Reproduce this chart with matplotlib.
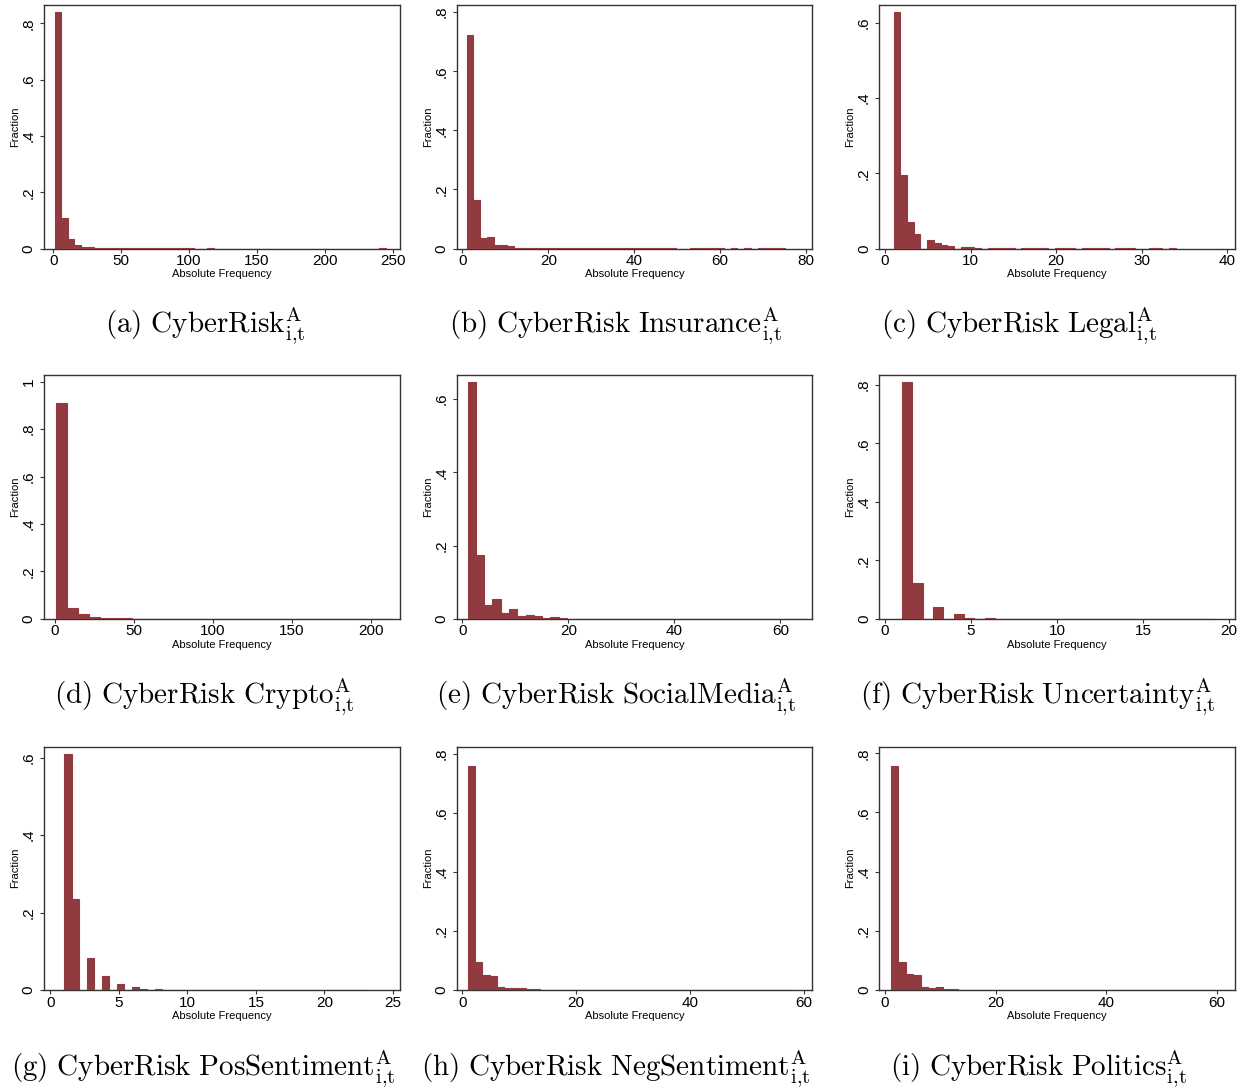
import numpy as np
import matplotlib
matplotlib.use('Agg')
import matplotlib.pyplot as plt

plt.rcParams['font.family'] = ['Liberation Sans', 'DejaVu Sans']
plt.rcParams['mathtext.fontset'] = 'cm'

# ---------------- data (fractions per histogram bin) ----------------
captions = [
    r'$\mathrm{(a)\ CyberRisk}^{\mathrm{A}}_{\mathrm{i{,}t}}$',
    r'$\mathrm{(b)\ CyberRisk\ Insurance}^{\mathrm{A}}_{\mathrm{i{,}t}}$',
    r'$\mathrm{(c)\ CyberRisk\ Legal}^{\mathrm{A}}_{\mathrm{i{,}t}}$',
    r'$\mathrm{(d)\ CyberRisk\ Crypto}^{\mathrm{A}}_{\mathrm{i{,}t}}$',
    r'$\mathrm{(e)\ CyberRisk\ SocialMedia}^{\mathrm{A}}_{\mathrm{i{,}t}}$',
    r'$\mathrm{(f)\ CyberRisk\ Uncertainty}^{\mathrm{A}}_{\mathrm{i{,}t}}$',
    r'$\mathrm{(g)\ CyberRisk\ PosSentiment}^{\mathrm{A}}_{\mathrm{i{,}t}}$',
    r'$\mathrm{(h)\ CyberRisk\ NegSentiment}^{\mathrm{A}}_{\mathrm{i{,}t}}$',
    r'$\mathrm{(i)\ CyberRisk\ Politics}^{\mathrm{A}}_{\mathrm{i{,}t}}$',
]

# (min value, max value, number of bins)
bin_specs = [(1, 245, 50), (1, 75, 47), (1, 34, 42),
             (1, 213, 31), (1, 65, 41), (1, 19, 30),
             (1, 23, 40), (1, 58, 45), (1, 62, 45)]

heights_a = [0.841, 0.110, 0.032, 0.012, 0.007, 0.004, 0.003, 0.002, 0.002, 0.0015,
             0.0015, 0.001, 0.001, 0.001, 0.001, 0.001, 0.0008, 0.0008, 0.0008, 0.0008,
             0.0006, 0, 0, 0.0006, 0, 0, 0, 0, 0, 0,
             0, 0, 0, 0, 0, 0, 0, 0, 0, 0,
             0, 0, 0, 0, 0, 0, 0, 0, 0, 0.0006]
heights_b = [0.721, 0.165, 0.036, 0.040, 0.012, 0.012, 0.008, 0.003, 0.002, 0.002,
             0.0015, 0.0015, 0.0008, 0.0008, 0.0008, 0.0008, 0.0008, 0.0008, 0.0008, 0.0008,
             0.0008, 0.0008, 0.0008, 0.0008, 0.0008, 0.0008, 0.0008, 0.0008, 0.0008, 0.0006,
             0.0006, 0, 0, 0.0006, 0.0006, 0.0006, 0.0006, 0.0006, 0, 0.0006,
             0, 0.0006, 0, 0.0006, 0.0006, 0.0006, 0.0006]
heights_c = [0.629, 0.196, 0.071, 0.038, 0, 0.022, 0.014, 0.009, 0.006, 0,
             0.0035, 0.0035, 0.001, 0, 0.0008, 0.0008, 0.0008, 0.0008, 0, 0.0008,
             0.0008, 0.0008, 0.0008, 0, 0.0008, 0.0008, 0.0008, 0, 0.0008, 0.0008,
             0.0008, 0.0008, 0, 0.0008, 0.0008, 0.0008, 0, 0, 0.0008, 0.0008,
             0, 0.0008]
heights_d = [0.911, 0.044, 0.021, 0.0085, 0.003, 0.002, 0.0015, 0.001, 0.001, 0.0008,
             0.0008, 0.0008, 0.0008, 0, 0, 0, 0.0006, 0, 0, 0,
             0, 0, 0, 0, 0, 0, 0, 0, 0, 0,
             0.0006]
heights_e = [0.648, 0.175, 0.038, 0.055, 0.016, 0.0255, 0.0064, 0.011, 0.008, 0.003,
             0.0045, 0.002, 0.0008, 0.0008, 0.0008, 0.0008, 0.0008, 0.0008, 0.0008, 0.0008,
             0.0008, 0, 0.0008, 0.0008, 0.0008, 0.0008, 0.0008, 0, 0, 0,
             0.0006, 0.0006, 0.0006, 0.0006, 0, 0, 0, 0.0006, 0.0006, 0.0006,
             0.0006]
heights_f = [0.810, 0.122, 0, 0.039, 0, 0.015, 0.002, 0, 0.0015, 0,
             0.001, 0.001, 0, 0.001, 0, 0, 0.0008, 0, 0.0006, 0,
             0, 0, 0, 0.0006, 0, 0, 0, 0, 0, 0.0006]
heights_g = [0.609, 0.234, 0, 0.083, 0, 0.036, 0, 0.0155, 0, 0.0077,
             0.0034, 0, 0.0026, 0, 0.001, 0, 0.001, 0, 0.0008, 0,
             0.0008, 0.0008, 0, 0.0008, 0, 0, 0, 0, 0, 0,
             0, 0, 0, 0, 0.0008, 0, 0, 0, 0, 0.0008]
heights_h = [0.761, 0.096, 0.051, 0.047, 0.010, 0.0068, 0.0056, 0.0056, 0.002, 0.002,
             0.0015, 0.0008, 0.0008, 0.0008, 0.0008, 0.0008, 0.0008, 0.0008, 0.0008, 0.0008,
             0.0008, 0.0008, 0, 0, 0, 0.0008, 0.0008, 0, 0, 0,
             0, 0.0008, 0, 0.0008, 0, 0, 0, 0, 0, 0,
             0.0008, 0, 0, 0.0008, 0.0008]
heights_i = [0.757, 0.096, 0.053, 0.051, 0.010, 0.007, 0.009, 0.003, 0.002, 0.0015,
             0.0008, 0.0008, 0.0008, 0.0008, 0.0008, 0.0008, 0.0008, 0.0008, 0.0008, 0.0008,
             0.0008, 0.0008, 0.0008, 0.0008, 0, 0, 0.0008, 0.0008, 0.0008, 0.0008,
             0.0008, 0, 0, 0.0008, 0, 0, 0, 0, 0, 0,
             0, 0, 0, 0, 0.0008]
heights = [heights_a, heights_b, heights_c, heights_d, heights_e,
           heights_f, heights_g, heights_h, heights_i]

x_ticks = [[0, 50, 100, 150, 200, 250], [0, 20, 40, 60, 80], [0, 10, 20, 30, 40],
           [0, 50, 100, 150, 200], [0, 20, 40, 60], [0, 5, 10, 15, 20],
           [0, 5, 10, 15, 20, 25], [0, 20, 40, 60], [0, 20, 40, 60]]
y_ticks = [[0, .2, .4, .6, .8], [0, .2, .4, .6, .8], [0, .2, .4, .6],
           [0, .2, .4, .6, .8, 1], [0, .2, .4, .6], [0, .2, .4, .6, .8],
           [0, .2, .4, .6], [0, .2, .4, .6, .8], [0, .2, .4, .6, .8]]
x_limits = [(-6.8, 254.9), (-1.3, 81.4), (-0.67, 40.9),
            (-6.8, 217.9), (-1.06, 66.0), (-0.33, 20.34),
            (-0.47, 25.48), (-0.99, 61.5), (-1.03, 63.2)]
y_tops = [0.865, 0.824, 0.647, 1.027, 0.665, 0.832, 0.629, 0.826, 0.823]

caption_x = [205, 616, 1019, 204, 616, 1038, 203, 616, 1039]
caption_baseline = [334, 705, 1077]

# ---------------- layout ----------------
W, H = 1243, 1091
BAR = '#913a40'
col_left = [44.0, 456.7, 879.3]
ax_w = 355.5
row_bottom = [248.5, 618.8, 990.0]
ax_h = 243.5


def ylab(v):
    if v == 0:
        return '0'
    if v == 1:
        return '1'
    return ('%.1f' % v).lstrip('0')


fig = plt.figure(figsize=(W / 100, H / 100), dpi=100)

for k in range(9):
    r, c = divmod(k, 3)
    left = col_left[c] / W
    bottom = 1 - row_bottom[r] / H
    ax = fig.add_axes([left, bottom, ax_w / W, ax_h / H])
    lo, hi, n = bin_specs[k]
    edges = np.linspace(lo, hi, n + 1)
    ax.bar(edges[:-1], heights[k], width=np.diff(edges), align='edge',
           color=BAR, edgecolor=BAR, linewidth=0.8, zorder=3)
    ax.set_xlim(*x_limits[k])
    ax.set_ylim(0, y_tops[k])
    ax.set_xticks(x_ticks[k])
    ax.set_xticklabels([str(t) for t in x_ticks[k]])
    ax.set_yticks(y_ticks[k])
    ax.set_yticklabels([ylab(v) for v in y_ticks[k]])
    ax.tick_params(axis='both', direction='out', length=3, width=0.8,
                   color='#333333', labelsize=11)
    ax.tick_params(axis='x', pad=1)
    ax.tick_params(axis='y', pad=3, labelrotation=90)
    for lab in ax.get_yticklabels():
        lab.set_va('center')
    for s in ax.spines.values():
        s.set_color('#333333')
        s.set_linewidth(1.0)
    ax.set_ylabel('Fraction', fontsize=8)
    ax.yaxis.set_label_coords(-0.067, 0.5)
    ax.set_xlabel('Absolute Frequency', fontsize=8)
    ax.xaxis.set_label_coords(0.5, -0.086)
    ax.xaxis.label.set_va('top')

    fig.text(caption_x[k] / W, 1 - caption_baseline[r] / H, captions[k],
             ha='center', va='baseline', fontsize=21)

fig.savefig('out.png', dpi=100, facecolor='white')
